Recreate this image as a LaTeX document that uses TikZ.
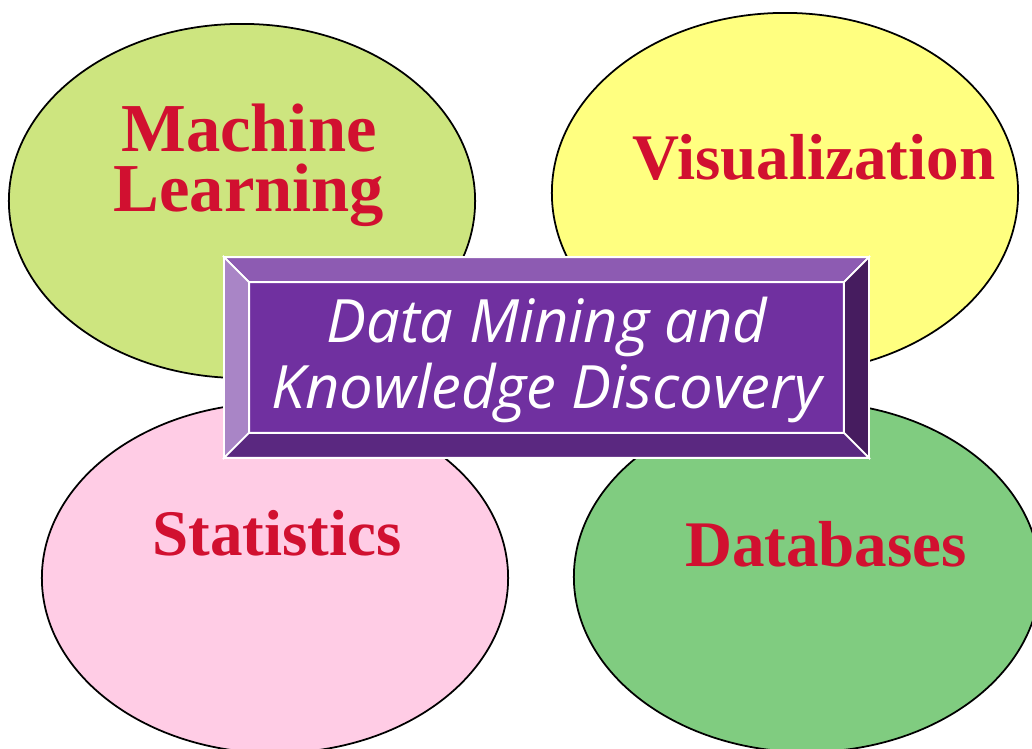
\documentclass[tikz,border=0pt]{standalone}
\usepackage{fontspec}
\setmainfont{Liberation Serif}
\newfontfamily\handfont{Open Sans}
\usetikzlibrary{shapes.geometric}
\definecolor{mlgreen}{HTML}{CDE57F}
\definecolor{visyellow}{HTML}{FFFF80}
\definecolor{statpink}{HTML}{FFCCE5}
\definecolor{dbgreen}{HTML}{80CC80}
\definecolor{lblred}{HTML}{D11030}
\definecolor{dmface}{HTML}{7030A0}
\definecolor{dmtop}{HTML}{8D5BB2}
\definecolor{dmleft}{HTML}{A985C6}
\definecolor{dmright}{HTML}{461C5F}
\definecolor{dmbottom}{HTML}{5A2880}
\tikzset{blob/.style={ellipse, draw=black, line width=0.5pt, inner sep=0pt, minimum width=4.66cm, minimum height=3.54cm},
  lbl/.style={text=lblred, font=\fontsize{18.5}{17}\selectfont\bfseries, align=center, inner sep=0pt},
  bevel/.style={draw=white, line width=0.5pt, line join=miter}}

\begin{document}
\begin{tikzpicture}[x=0.01cm, y=-0.01cm]
   \useasboundingbox (0,0) rectangle (1032,749);
   % the four fields
   \node[blob, fill=mlgreen] (mle) at (242,201) {};
   \node[blob, fill=visyellow, minimum height=3.6cm] (vise) at (785,193) {};
   \node[blob, fill=statpink, minimum height=3.5cm] (state) at (275,578) {};
   \node[blob, fill=dbgreen, minimum height=3.5cm] (dbe) at (807,577) {};
   \node[lbl, font=\fontsize{19.5}{17}\selectfont\bfseries] (ml) at (249,165) {Machine\\Learning};
   \node[lbl, anchor=base] (vis) at (814,180) {Visualization};
   \node[lbl, anchor=base] (stat) at (277,556) {Statistics};
   \node[lbl, anchor=base] (db) at (826,567) {Databases};
   % the bevelled box in the middle
   \begin{scope}
    \node[inner sep=0pt, minimum width=6.43cm, minimum height=1.99cm] (dmbox) at (546.5,357.5) {};
    \node[inner sep=0pt, minimum width=5.93cm, minimum height=1.49cm, fill=dmface] (dm) at (546.5,357.5) {};
    \fill[bevel, fill=dmtop] (dmbox.north west) -- (dmbox.north east) -- (dm.north east) -- (dm.north west) -- cycle;
    \fill[bevel, fill=dmleft] (dmbox.north west) -- (dm.north west) -- (dm.south west) -- (dmbox.south west) -- cycle;
    \fill[bevel, fill=dmright] (dmbox.north east) -- (dmbox.south east) -- (dm.south east) -- (dm.north east) -- cycle;
    \fill[bevel, fill=dmbottom] (dmbox.south west) -- (dm.south west) -- (dm.south east) -- (dmbox.south east) -- cycle;
    \draw[bevel] (dmbox.north west) rectangle (dmbox.south east);
    \draw[bevel] (dm.north west) rectangle (dm.south east);
    \node[text=white, align=center, inner sep=0pt, font=\handfont\itshape\fontsize{17}{18.5}\selectfont] (dmtext) at (547,360) {Data Mining and\\Knowledge Discovery};
   \end{scope}
\end{tikzpicture}
\end{document}
